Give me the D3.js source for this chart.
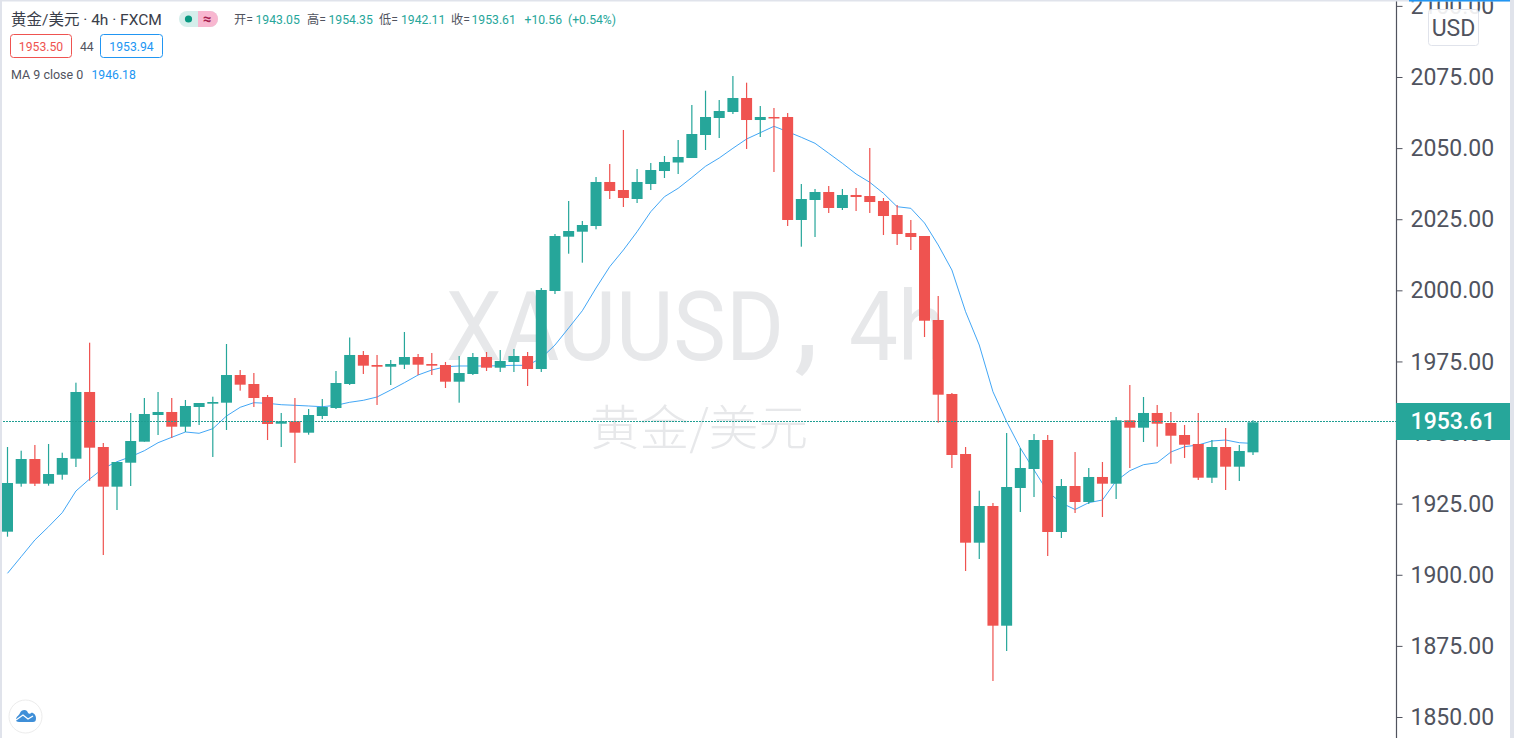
<!DOCTYPE html>
<html><head><meta charset="utf-8">
<style>html,body{margin:0;padding:0;background:#fff;overflow:hidden}svg{display:block}text{font-family:Roboto,"Noto Sans CJK SC",sans-serif}</style>
<script src="https://cdn.jsdelivr.net/npm/d3@7/dist/d3.min.js"></script>
</head><body><svg id="c" width="1514" height="738"></svg>
<script>
const opens=[1915.15,1932.02,1940.7,1932.02,1935.18,1940.81,1964.26,1944.92,1930.97,1939.4,1946.79,1956.17,1957.23,1952.06,1958.99,1960.15,1960.5,1970.23,1967.07,1962.5,1953.11,1953.96,1949.95,1955.82,1958.63,1967.07,1977.27,1973.75,1973.15,1973.86,1976.56,1974.1,1973.75,1967.88,1970.59,1976.56,1972.8,1974.81,1976.91,1972.34,1999.77,2018.86,2020.61,2022.62,2038.09,2035.27,2032.11,2037.38,2041.95,2044.94,2046.52,2054.61,2060.59,2062.7,2067.62,2059.88,2060.94,2060.94,2024.73,2031.76,2034.57,2028.95,2033.52,2033.16,2031.41,2026.48,2020.16,2019.1,1989.57,1963.56,1942.46,1911.28,1924.18,1882.1,1930.51,1937.19,1947.38,1915.04,1931.21,1925.59,1934.38,1932.02,1954.31,1951.71,1956.88,1953.36,1949.14,1945.98,1934.13,1944.92,1938,1943.05];
const highs=[1944.92,1943.62,1945.63,1945.98,1942.92,1967.53,1981.59,1946.33,1939.65,1956.88,1962.15,1964.26,1962.15,1961.45,1960.39,1962.61,1981.13,1971.99,1970.94,1963.2,1956.88,1962.15,1958.28,1961.8,1971.64,1983.42,1978.67,1977.27,1975.51,1985.35,1977.62,1977.97,1974.81,1976.91,1977.97,1978.32,1979.02,1979.38,1978.32,2000.82,2019.8,2031.41,2024.38,2039.84,2044.41,2056.37,2042.66,2044.77,2047.23,2052.85,2065.16,2070.18,2066.91,2075.35,2073,2064.8,2064.1,2062.34,2037.38,2035.63,2036.68,2035.63,2035.98,2050.04,2032.46,2030,2024.73,2019.1,1998.01,1963.91,1944.92,1929.56,1925.24,1949.84,1944.57,1949.49,1949.14,1933.67,1943.16,1937.54,1939.65,1955.47,1966.72,1962.5,1959.69,1957.23,1952.66,1956.88,1947.38,1951.6,1945.63,1954.35];
const lows=[1913.39,1930.97,1931.21,1931.32,1933.43,1937.89,1933.08,1906.95,1922.77,1931.21,1946.79,1949.14,1948.09,1950.2,1952.66,1941.41,1950.9,1964.72,1958.99,1947.38,1944.92,1939.3,1949.25,1954.77,1958.28,1966.72,1970.59,1959.69,1966.72,1972.34,1970.23,1970.23,1965.66,1960.5,1970.23,1971.64,1971.29,1971.29,1966.37,1971.29,1998.71,2012.88,2009.72,2021.46,2032.11,2029.3,2030.7,2035.27,2039.49,2040.9,2046.52,2049.34,2053.55,2061.99,2049.69,2053.91,2041.6,2022.62,2015.34,2018.75,2027.19,2028.24,2027.89,2027.19,2019.45,2015.94,2014.18,1983.59,1953.47,1937.54,1901.33,1905.55,1862.66,1873.2,1922.07,1927.34,1906.6,1912.93,1921.72,1924.88,1920.31,1926.64,1937.54,1946.68,1945.03,1939.05,1941.06,1933.32,1932.27,1929.81,1932.97,1942.11];
const closes=[1932.27,1940.7,1932.02,1935.43,1941.06,1964.26,1944.68,1930.97,1939.65,1947.03,1956.52,1957.23,1952.06,1959.34,1960.39,1960.74,1970.23,1966.83,1962.15,1953.01,1953.96,1949.95,1956.17,1958.99,1967.42,1977.27,1973.51,1973.15,1974.1,1976.56,1973.86,1973.51,1967.88,1970.94,1976.56,1972.8,1975.16,1976.91,1972.34,2000.12,2019.1,2020.86,2022.97,2038.09,2034.92,2032.46,2038.09,2042.3,2045.12,2046.88,2054.96,2060.94,2063.05,2067.62,2059.88,2060.94,2060.59,2024.73,2032.11,2034.57,2028.95,2033.52,2032.81,2031.05,2026.13,2019.8,2018.75,1989.32,1963.31,1942.11,1911.28,1924.18,1882.1,1930.86,1937.54,1947.38,1915.04,1931.21,1925.59,1934.38,1932.02,1954.31,1951.71,1956.88,1953.11,1948.89,1945.73,1934.13,1944.92,1938,1943.52,1953.61];
const maValues=[1900.52,1906.36,1912.23,1916.9,1921.83,1929.45,1933.67,1937.43,1939.75,1941.51,1943.62,1946.43,1948.33,1950.2,1949.74,1951.36,1955.82,1958.88,1960.5,1960.28,1959.79,1959.58,1959.34,1959.09,1959.58,1960.64,1961.34,1962.5,1964.96,1967.53,1970.23,1971.99,1973.15,1973.4,1973.4,1973.4,1973.51,1973.64,1973.64,1976.21,1980.78,1986.76,1992.84,2000.82,2008.31,2014.18,2020.61,2027.64,2032.92,2035.87,2039.67,2043.61,2046.52,2049.93,2053.2,2055.42,2057.67,2055.77,2053.8,2051.69,2048.18,2044.66,2040.9,2037.98,2034.11,2029.4,2028.84,2023.67,2015.94,2007.15,1992.49,1980.78,1964.36,1953.82,1944.57,1936.84,1929.21,1925.24,1922.95,1925.34,1926.29,1932.97,1936.59,1938.7,1939.4,1943.16,1945.03,1945.63,1947.03,1947.38,1946.43,1946.18];
const yTicks=[1850,1875,1900,1925,1950,1975,2000,2025,2050,2075,2100];
const lastPrice=1953.61;
const titleText="黄金/美元 · 4h · FXCM";
const ohlcLabels=[["开=",234],["1943.05",255.5],["高=",307],["1954.35",328.5],["低=",379],["1942.11",401],["收=",451],["1953.61",471.5],["+10.56",524.5],["(+0.54%)",568]];

const UP="#26a69a",DOWN="#ef5350",INK="#50535e",BLUE="#2196f3",EDGE="#e0e3eb",WM="#e7e8ea";
const svg=d3.select("#c");
const x=d3.scaleLinear().domain([0,91]).range([7.5,1253]);
const y=d3.scaleLinear().domain([1850,2075]).range([717,77]);
const bodyW=11;

// frame
svg.append("rect").attr("width",1514).attr("height",738).attr("fill","#fff");

// watermark
const wm=(t,px,py,size,len)=>svg.append("text").text(t).attr("x",px).attr("y",py).attr("font-size",size)
  .attr("textLength",len).attr("lengthAdjust","spacingAndGlyphs").attr("fill",WM);
wm("XAUUSD",446,360,97,338);
svg.append("text").text(",").attr("x",794).attr("y",358).attr("font-size",125).attr("fill",WM);
wm("4h",849,360,97,97);
wm("黄金/美元",590,445,48,218).style("font-family",'"Noto Sans CJK SC"').attr("font-weight",300);

// moving average below the candles
svg.append("path").datum(maValues)
  .attr("d",d3.line().x((d,i)=>x(i)).y(d=>y(d)))
  .attr("fill","none").attr("stroke",BLUE).attr("stroke-width",1).attr("opacity",.85);

// candles
const rows=closes.map((c,i)=>({i,o:opens[i],h:highs[i],l:lows[i],c}));
const col=d=>d.c>=d.o?UP:DOWN;
const g=svg.append("g");
g.selectAll("rect.w").data(rows).join("rect").attr("class","w")
  .attr("x",d=>x(d.i)-.6).attr("width",1.2)
  .attr("y",d=>y(d.h)).attr("height",d=>y(d.l)-y(d.h)).attr("fill",col);
g.selectAll("rect.b").data(rows).join("rect").attr("class","b")
  .attr("x",d=>x(d.i)-bodyW/2).attr("width",bodyW)
  .attr("y",d=>y(Math.max(d.o,d.c))).attr("height",d=>Math.max(1.5,Math.abs(y(d.o)-y(d.c)))).attr("fill",col);

// last-price dotted line
svg.append("line").attr("x1",0).attr("x2",1397).attr("y1",Math.round(y(lastPrice))-.5).attr("y2",Math.round(y(lastPrice))-.5)
  .attr("stroke","#1f9e92").attr("stroke-width",1).attr("stroke-dasharray","2 1").attr("shape-rendering","crispEdges");

// axis
svg.append("rect").attr("x",1397).attr("y",0).attr("width",113).attr("height",738).attr("fill","#fff");
const axis=svg.append("g").attr("transform","translate(1396.5,0)")
  .call(d3.axisRight(y).tickValues(yTicks).tickFormat(d3.format(".2f")).tickSize(6).tickPadding(8));
axis.select(".domain").attr("d","M0,0V738").attr("stroke",INK).attr("stroke-width",1.2);
axis.selectAll("line").attr("stroke",INK);
axis.selectAll("text").attr("fill",INK).attr("font-size",23).style("font-family","Roboto").attr("dy",".33em");

// last price tag
svg.append("rect").attr("x",1396).attr("y",403).attr("width",114).attr("height",37).attr("fill",UP);
svg.append("text").text(d3.format(".2f")(lastPrice)).attr("x",1453).attr("y",429).attr("text-anchor","middle")
  .attr("font-size",23).attr("font-weight",500).attr("fill","#fff");

// USD button
svg.append("rect").attr("x",1428.5).attr("y",9.5).attr("width",50).attr("height",36).attr("rx",3)
  .attr("fill","#fff").attr("fill-opacity",.9).attr("stroke",EDGE);
svg.append("text").text("USD").attr("x",1453.5).attr("y",36).attr("text-anchor","middle").attr("font-size",23).attr("fill",INK);

// edges
svg.append("rect").attr("x",0).attr("y",0).attr("width",2).attr("height",738).attr("fill",EDGE);
svg.append("rect").attr("x",0).attr("y",0).attr("width",1514).attr("height",1.5).attr("fill",EDGE);
svg.append("rect").attr("x",1510).attr("y",0).attr("width",4).attr("height",738).attr("fill",EDGE);
svg.append("rect").attr("x",1409).attr("y",0).attr("width",101).attr("height",1.5).attr("fill",BLUE);

// legend
svg.append("text").text(titleText).attr("x",11).attr("y",24.5).attr("font-size",15.5).attr("fill","#3a3e4a");
svg.append("path").attr("d","M189,11h-2a8,8 0 0 0 0,16h2z").attr("fill","#d5eeeb");
svg.append("path").attr("d","M189,11h21a8,8 0 0 1 0,16h-21z").attr("fill","#d5eeeb");
svg.append("path").attr("d","M198,11h12a8,8 0 0 1 0,16h-12z").attr("fill","#f8b7d0");
svg.append("circle").attr("cx",188.5).attr("cy",19).attr("r",3.6).attr("fill","#089981");
svg.append("text").text("≈").attr("x",207).attr("y",23.5).attr("text-anchor","middle").attr("font-size",15).attr("font-weight",700).attr("fill","#a5204f");
ohlcLabels.forEach(([t,px],i)=>{
  svg.append("text").text(t).attr("x",px).attr("y",24).attr("font-size",12.2)
    .attr("fill",i%2===0&&i<8?INK:UP);
});
const box=(px,w,c,t)=>{
  svg.append("rect").attr("x",px+.5).attr("y",34.5).attr("width",w).attr("height",23).attr("rx",3).attr("fill","#fff").attr("stroke",c);
  svg.append("text").text(t).attr("x",px+w/2+.5).attr("y",50.5).attr("text-anchor","middle").attr("font-size",12.2).attr("fill",c);
};
box(10,61,DOWN,"1953.50");
box(100,62,BLUE,"1953.94");
svg.append("text").text("44").attr("x",80).attr("y",50.5).attr("font-size",12.2).attr("fill",INK);
svg.append("text").text("MA 9 close 0").attr("x",11).attr("y",78.5).attr("font-size",12.5).attr("fill",INK);
svg.append("text").text("1946.18").attr("x",91.5).attr("y",78.5).attr("font-size",12.2).attr("fill",BLUE);

// logo
svg.append("circle").attr("cx",25.5).attr("cy",716.5).attr("r",16.5).attr("fill","#fff").attr("stroke","#ececec");
svg.append("path").attr("d","M16,720 C16,716 19,716 20,713 C21,710 25,709 27,711 C28,713 29,715 31,713 C33,712 36,715 36,718 C36,721 35,722 33,722 L19,722 C17,722 16,721 16,720Z").attr("fill","#3f8fd8");
svg.append("path").attr("d","M16,720 L23,715 L28,719 L33,716").attr("fill","none").attr("stroke","#fff").attr("stroke-width",1.3);
</script></body></html>
